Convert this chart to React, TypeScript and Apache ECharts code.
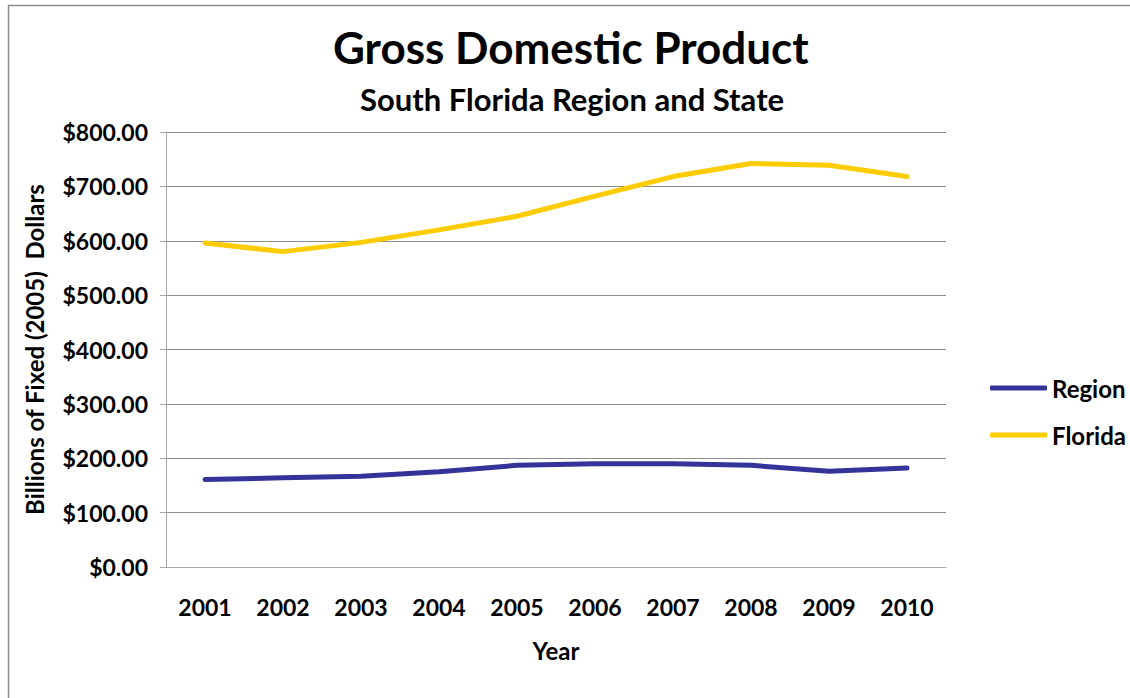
import React, { useEffect, useRef } from "react";
import * as echarts from "echarts";

const years = ["2001", "2002", "2003", "2004", "2005", "2006", "2007", "2008", "2009", "2010"];
const regionValues = [161, 164, 167, 175, 187, 190, 190, 187, 176, 182];
const floridaValues = [596, 580, 597, 620, 645, 682, 718, 742, 739, 718];
const seriesNames = ["Region", "Florida"];
const titleText = "Gross Domestic Product";
const subtitleText = "South Florida Region and State";
const yAxisTitle = "Billions of Fixed (2005)  Dollars";
const xAxisTitle = "Year";

const FONT = "Lato, 'Open Sans', sans-serif";

export default function App() {
  const ref = useRef<HTMLDivElement>(null);
  useEffect(() => {
    if (!ref.current) return;
    const chart = echarts.init(ref.current, null, { renderer: "svg" });
    chart.setOption({
      animation: false,
      backgroundColor: "#ffffff",
      title: [
        {
          text: titleText,
          left: 333,
          top: 25,
          padding: 0,
          textStyle: { fontFamily: FONT, fontWeight: "bold", fontSize: 44, color: "#000" },
        },
        {
          text: subtitleText,
          left: 360,
          top: 83,
          padding: 0,
          textStyle: { fontFamily: FONT, fontWeight: "bold", fontSize: 31, color: "#000" },
        },
      ],
      graphic: [
        {
          type: "rect",
          shape: { x: 8.5, y: 5.5, width: 1300, height: 1000 },
          style: { fill: "none", stroke: "#8c8c8c", lineWidth: 1.5 },
          silent: true,
        },
      ],
      legend: {
        orient: "vertical",
        left: 990,
        top: 376,
        padding: 0,
        itemWidth: 57,
        itemHeight: 5,
        itemGap: 23,
        icon: "roundRect",
        data: seriesNames,
        textStyle: { fontFamily: FONT, fontWeight: "bold", fontSize: 24, color: "#000", padding: [0, 0, 0, 0] },
      },
      grid: { left: 166, right: 184, top: 132, bottom: 131, containLabel: false },
      xAxis: {
        type: "category",
        data: years,
        boundaryGap: true,
        name: xAxisTitle,
        nameLocation: "middle",
        nameGap: 71,
        nameTextStyle: { fontFamily: FONT, fontWeight: "bold", fontSize: 24, color: "#000" },
        axisLine: { lineStyle: { color: "#a6a6a6", width: 1 } },
        axisTick: { show: false },
        axisLabel: { margin: 28, fontFamily: FONT, fontWeight: "bold", fontSize: 23, color: "#000" },
      },
      yAxis: {
        type: "value",
        min: 0,
        max: 800,
        interval: 100,
        name: yAxisTitle,
        nameLocation: "middle",
        nameGap: 120,
        nameTextStyle: { fontFamily: FONT, fontWeight: "bold", fontSize: 24, color: "#000" },
        axisLine: { show: true, lineStyle: { color: "#a6a6a6", width: 1 } },
        axisTick: { show: true, length: 6, lineStyle: { color: "#a6a6a6" } },
        axisLabel: {
          margin: 18,
          fontFamily: FONT,
          fontWeight: "bold",
          fontSize: 23,
          color: "#000",
          formatter: (v: number) => "$" + v.toFixed(2),
        },
        splitLine: { lineStyle: { color: "#8c8c8c", width: 1 } },
      },
      series: [
        {
          name: seriesNames[0],
          type: "line",
          data: regionValues,
          symbol: "none",
          color: "#333399",
          lineStyle: { width: 5, color: "#333399", cap: "round", join: "round" },
        },
        {
          name: seriesNames[1],
          type: "line",
          data: floridaValues,
          symbol: "none",
          color: "#ffcc00",
          lineStyle: { width: 5, color: "#ffcc00", cap: "round", join: "round" },
        },
      ],
    });
    return () => chart.dispose();
  }, []);
  return (
    <div
      ref={ref}
      style={{ position: "absolute", left: 0, top: 0, width: 1130, height: 698 }}
    />
  );
}
